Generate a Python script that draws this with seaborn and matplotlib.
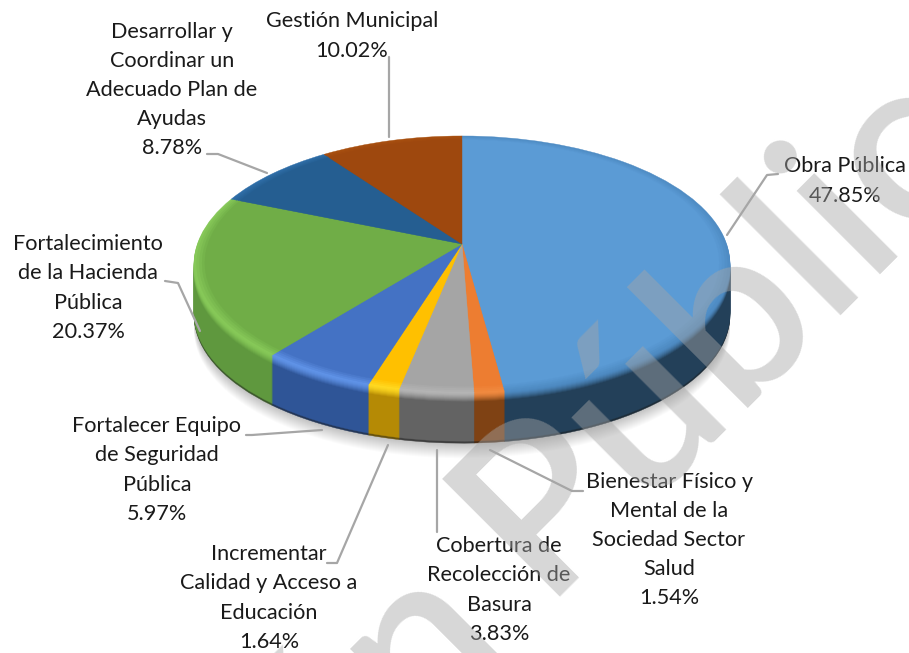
import matplotlib
matplotlib.use('Agg')
import matplotlib.pyplot as plt
from matplotlib.transforms import Transform, Affine2D
import seaborn as sns

sns.set_theme(style='white')
plt.rcParams['font.family'] = ['Lato', 'DejaVu Sans']

labels = [
    'Obra Pública\n47.85%',
    'Bienestar Físico y\nMental de la\nSociedad Sector\nSalud\n1.54%',
    'Cobertura de\nRecolección de\nBasura\n3.83%',
    'Incrementar\nCalidad y Acceso a\nEducación\n1.64%',
    'Fortalecer Equipo\nde Seguridad\nPública\n5.97%',
    'Fortalecimiento\nde la Hacienda\nPública\n20.37%',
    'Desarrollar y\nCoordinar un\nAdecuado Plan de\nAyudas\n8.78%',
    'Gestión Municipal\n10.02%',
]
shares = [47.85, 1.54, 3.83, 1.64, 5.97, 20.37, 8.78, 10.02]

face_colors = sns.color_palette(['#5b9bd5', '#ed7d31', '#a5a5a5', '#ffc000',
                                 '#4472c4', '#70ad47', '#255e91', '#9e480e'])
rim_colors = sns.color_palette(['#4f8cc4', '#f08a40', '#b4b4b4', '#ffd820',
                                '#5f92e6', '#86c858', '#2f6ea8', '#a8500f'])
wall_colors = sns.color_palette(['#234059', '#7f4214', '#636363', '#b58a05',
                                 '#2f5597', '#5f983e', '#1a4064', '#6e3209'])

label_pos = [(845, 181), (669, 540), (499, 590), (269, 598),
             (157, 470), (88, 288), (172, 90), (352, 36)]
leaders = [
    [(727, 235), (767, 175), (778, 174)],
    [(490, 450), (572, 491), (583, 491)],
    [(437, 450), (437, 532)],
    [(388, 445), (337, 563), (327, 563)],
    [(322, 430), (252, 435), (246, 435)],
    [(200, 331), (178, 283), (165, 281)],
    [(267, 173), (218, 154), (207, 154)],
    [(389, 137), (389, 57)],
]

depth = 50
bevel = 9


class Tilt(Transform):
    # projective tilt of the unit disc, the near side gets bigger
    input_dims = 2
    output_dims = 2
    has_inverse = False

    def __init__(self, k, a, b, cx, cy):
        super().__init__()
        self.k, self.a, self.b, self.cx, self.cy = k, a, b, cx, cy

    def transform_non_affine(self, xy):
        w = 1 + self.k * xy[:, 1]
        out = xy.copy()
        out[:, 0] = self.cx + self.a * xy[:, 0] / w
        out[:, 1] = self.cy - self.b * xy[:, 1] / w
        return out


def mix(c1, c2, t):
    t = min(max(t, 0), 1)
    return tuple(p + (q - p) * t for p, q in zip(c1, c2))


fig = plt.figure(figsize=(9.09, 6.53), dpi=100, facecolor='white')
ax = fig.add_axes([0, 0, 1, 1])
tilt = Tilt(0.16, 264.6, 125.3, 462, 244)


def layer(colors, dy=0, radius=1.0, alpha=None, values=shares):
    wedges, _ = ax.pie(values, colors=colors, startangle=90, counterclock=False, radius=radius)
    for w in wedges:
        w.set_transform(tilt + Affine2D().translate(0, dy) + ax.transData)
        if alpha is None:
            w.set_edgecolor(w.get_facecolor())
            w.set_linewidth(0.3)
        else:
            w.set_linewidth(0)
            w.set_alpha(alpha)


# soft shadow under the disc
for j in range(1, 16):
    layer(['black'], dy=depth + j, alpha=0.017, values=[1])

# side wall, bottom to top
for d in range(depth, 0, -1):
    if d > bevel:
        cols = wall_colors
        if d >= depth - 1:
            cols = [mix(c, (0.1, 0.1, 0.1), 0.5) for c in wall_colors]
    else:
        t = d / bevel
        cols = [mix(r, w, t ** 1.5) for r, w in zip(rim_colors, wall_colors)]
    layer(cols, dy=d)

# top face with a thin bevel along the rim
for r in [1.0, 0.99, 0.98, 0.97, 0.96]:
    t = (1.0 - r) / 0.04
    layer([mix(a, b, t) for a, b in zip(rim_colors, face_colors)], radius=r)

ax.set_aspect('auto')
ax.set_xlim(0, 909)
ax.set_ylim(653, 0)
ax.axis('off')

for path in leaders:
    ax.plot([p[0] for p in path], [p[1] for p in path], color='#a6a6a6', lw=1.6,
            solid_capstyle='round', zorder=3)

for text, (x, y) in zip(labels, label_pos):
    ax.text(x, y, text, ha='center', va='center', fontsize=15.6, color='#1a1a1a',
            linespacing=1.57, zorder=4)

# watermark over everything
ax.text(540, 597, 'Pública', rotation=45, rotation_mode='anchor', ha='left', va='baseline',
        fontsize=167, color='#a6a6a6', alpha=0.45, fontweight='semibold', zorder=5, clip_on=True)
ax.text(510, 637, 'Información', rotation=45, rotation_mode='anchor', ha='right', va='baseline',
        fontsize=167, color='#a6a6a6', alpha=0.45, fontweight='semibold', zorder=5, clip_on=True)

fig.savefig('out.png', dpi=100)
